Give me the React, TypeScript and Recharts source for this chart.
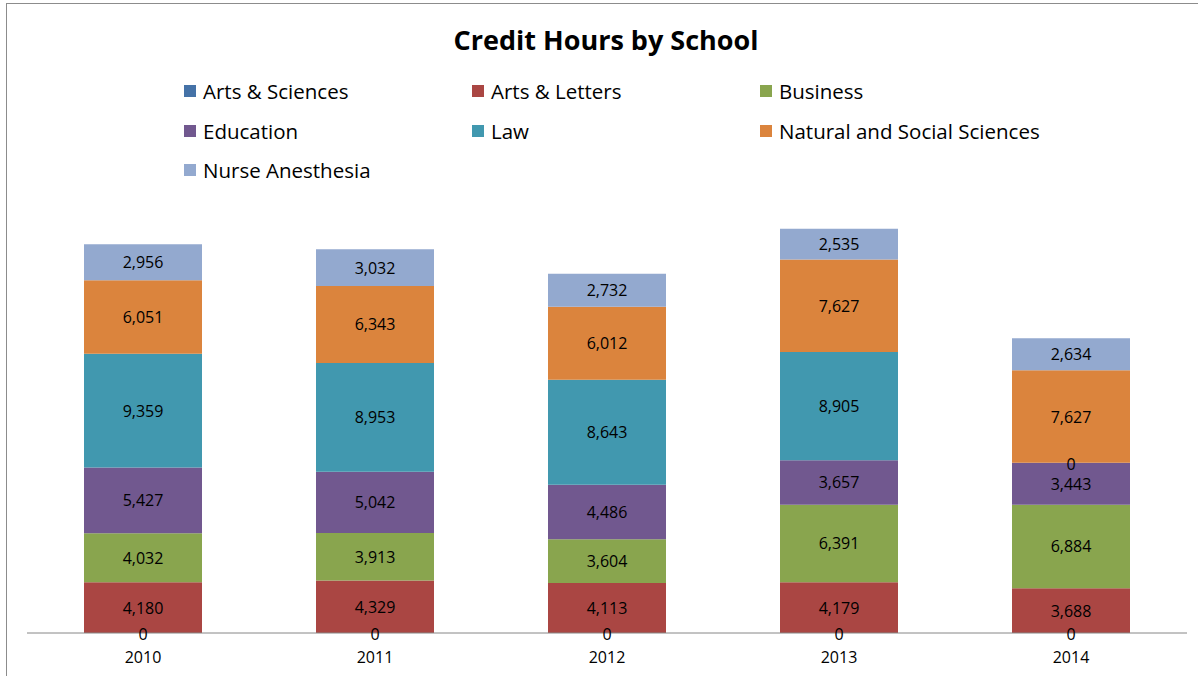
import React from 'react';
import { BarChart, Bar, XAxis, YAxis, LabelList } from 'recharts';

const years = ['2010', '2011', '2012', '2013', '2014'];
const artsSciences = [0, 0, 0, 0, 0];
const artsLetters = [4180, 4329, 4113, 4179, 3688];
const business = [4032, 3913, 3604, 6391, 6884];
const education = [5427, 5042, 4486, 3657, 3443];
const law = [9359, 8953, 8643, 8905, 0];
const naturalSocial = [6051, 6343, 6012, 7627, 7627];
const nurseAnesthesia = [2956, 3032, 2732, 2535, 2634];

const series = [
  { key: 'artsSciences', name: 'Arts & Sciences', color: '#4572A7', values: artsSciences },
  { key: 'artsLetters', name: 'Arts & Letters', color: '#AA4643', values: artsLetters },
  { key: 'business', name: 'Business', color: '#89A54E', values: business },
  { key: 'education', name: 'Education', color: '#71588F', values: education },
  { key: 'law', name: 'Law', color: '#4198AF', values: law },
  { key: 'naturalSocial', name: 'Natural and Social Sciences', color: '#DB843D', values: naturalSocial },
  { key: 'nurseAnesthesia', name: 'Nurse Anesthesia', color: '#93A9CF', values: nurseAnesthesia },
];

// recharts drops zero-height segments (and their labels), so a zero value is
// carried on the next non-empty segment above it and drawn at that segment's bottom edge
const data = years.map((year, i) => {
  const row: Record<string, string | number> = { year };
  series.forEach((s, k) => {
    row[s.key] = s.values[i];
    if (s.values[i] > 0 && k > 0 && series[k - 1].values[i] === 0) {
      row[s.key + 'Zero'] = series[k - 1].values[i];
    }
  });
  return row;
});

const FONT = '"Open Sans", "Liberation Sans", sans-serif';

const renderLabel = (props: any) => {
  const { x, y, width, height, value } = props;
  if (value === undefined || value === null) return null;
  return (
    <text
      x={Number(x) + Number(width) / 2}
      y={Number(y) + Number(height) / 2}
      textAnchor="middle"
      dominantBaseline="central"
      fill="#000"
      fontSize={16}
      fontFamily={FONT}
    >
      {Number(value).toLocaleString('en-US')}
    </text>
  );
};

const renderZeroLabel = (props: any) => {
  const { x, y, width, height, value } = props;
  if (value === undefined || value === null || value === '') return null;
  return (
    <text
      x={Number(x) + Number(width) / 2}
      y={Number(y) + Number(height) + 1}
      textAnchor="middle"
      dominantBaseline="central"
      fill="#000"
      fontSize={16}
      fontFamily={FONT}
    >
      {Number(value).toLocaleString('en-US')}
    </text>
  );
};

export default function App() {
  return (
    <div
      style={{
        position: 'absolute',
        left: 6,
        top: 3,
        width: 1191,
        height: 672,
        borderTop: '1px solid #8c8c8c',
        borderLeft: '1px solid #8c8c8c',
        background: '#fff',
        fontFamily: FONT,
      }}
    >
      <div
        style={{
          position: 'absolute',
          left: 0,
          width: 1198,
          top: 18,
          textAlign: 'center',
          fontSize: 27,
          fontWeight: 700,
          color: '#000',
          lineHeight: '36px',
        }}
      >
        Credit Hours by School
      </div>
      {series.map((s, i) => (
        <div
          key={s.key}
          style={{
            position: 'absolute',
            left: 177 + (i % 3) * 288,
            top: 87 + Math.floor(i / 3) * 39.5 - 13,
            height: 26,
            display: 'flex',
            alignItems: 'center',
            fontSize: 20.5,
            color: '#000',
            whiteSpace: 'nowrap',
          }}
        >
          <span style={{ width: 12, height: 12, background: s.color, marginRight: 7, display: 'inline-block' }} />
          {s.name}
        </div>
      ))}
      <BarChart
        width={1191}
        height={672}
        data={data}
        margin={{ top: 204, right: 11, bottom: 13, left: 20 }}
        barCategoryGap={57}
      >
        <XAxis
          dataKey="year"
          axisLine={{ stroke: '#868686', strokeWidth: 1 }}
          tickLine={false}
          tickSize={0}
          tickMargin={19}
          tick={{ fill: '#000', fontSize: 16, fontFamily: FONT }}
          height={30}
        />
        <YAxis hide domain={[0, 35000]} />
        {series.map((s) => (
          <Bar
            key={s.key}
            dataKey={s.key}
            name={s.name}
            stackId="a"
            fill={s.color}
            barSize={118}
            isAnimationActive={false}
          >
            <LabelList dataKey={s.key} content={renderLabel} />
            <LabelList dataKey={s.key + 'Zero'} content={renderZeroLabel} />
          </Bar>
        ))}
      </BarChart>
    </div>
  );
}
